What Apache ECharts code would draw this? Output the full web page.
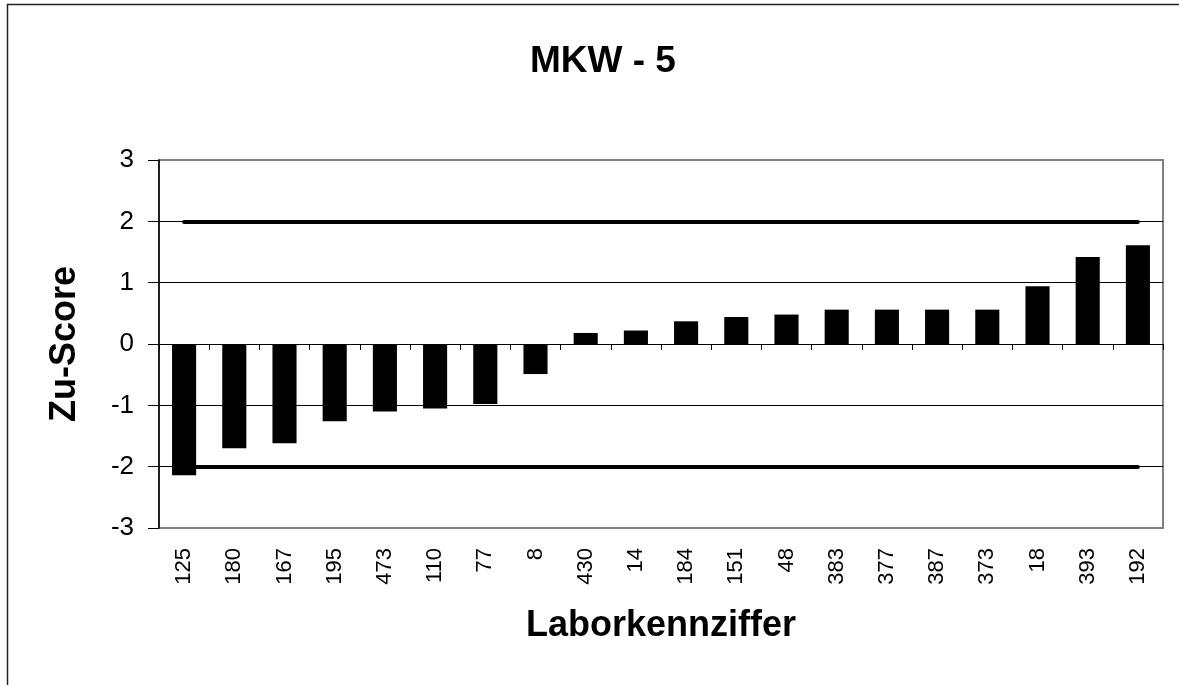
<!DOCTYPE html>
<html>
<head>
<meta charset="utf-8">
<script src="https://cdn.jsdelivr.net/npm/echarts@6/dist/echarts.min.js"></script>
<style>
  html, body { margin: 0; padding: 0; background: #fff; }
  #chart { width: 1179px; height: 685px; }
</style>
</head>
<body>
<div id="chart"></div>
<script>
// Laboratory codes, sorted by z-score
const labCodes = ['125', '180', '167', '195', '473', '110', '77', '8', '430', '14',
                  '184', '151', '48', '383', '377', '387', '373', '18', '393', '192'];
// Zu-Score per laboratory
const zuScores = [-2.14, -1.70, -1.62, -1.26, -1.10, -1.05, -0.98, -0.49, 0.18, 0.22,
                  0.37, 0.44, 0.48, 0.56, 0.56, 0.56, 0.56, 0.94, 1.42, 1.61];
// Acceptance limits
const upperLimit = 2;
const lowerLimit = -2;
// Y axis range
const yMin = -3, yMax = 3, yStep = 1;

const FONT = '"Liberation Sans", Arial, sans-serif';
const first = labCodes[0];
const last = labCodes[labCodes.length - 1];

const chart = echarts.init(document.getElementById('chart'), null, { renderer: 'canvas' });

chart.setOption({
  animation: false,
  backgroundColor: '#ffffff',
  title: {
    text: 'MKW - 5',
    left: 525,
    top: 38,
    textStyle: { fontFamily: FONT, fontSize: 37, fontWeight: 'bold', color: '#000' }
  },
  graphic: [{
    type: 'rect',
    shape: { x: 7.5, y: 4.5, width: 1250, height: 750 },
    style: { fill: 'none', stroke: '#222', lineWidth: 1.5 },
    silent: true,
    z: -1
  }],
  grid: {
    left: 159, right: 16, top: 160, bottom: 157,
    show: true,
    borderColor: '#808080',
    borderWidth: 2,
    backgroundColor: 'transparent'
  },
  xAxis: [
    {
      type: 'category',
      data: labCodes,
      position: 'bottom',
      axisLine: { show: false, onZero: false },
      axisTick: { show: false },
      axisLabel: { rotate: 90, fontSize: 22, margin: 20, color: '#000', fontFamily: FONT, interval: 0 },
      name: 'Laborkennziffer',
      nameLocation: 'middle',
      nameGap: 80,
      nameTextStyle: { fontFamily: FONT, fontSize: 36, fontWeight: 'bold', color: '#000' },
      splitLine: { show: false }
    },
    {
      type: 'category',
      data: labCodes,
      position: 'top',
      axisLine: { show: true, onZero: true, lineStyle: { color: '#000', width: 1 } },
      axisTick: { show: true, inside: true, length: 6, lineStyle: { color: '#000', width: 1 } },
      axisLabel: { show: false },
      splitLine: { show: false }
    }
  ],
  yAxis: {
    type: 'value',
    min: yMin, max: yMax, interval: yStep,
    axisLine: { show: true, lineStyle: { color: '#000', width: 1.5 } },
    axisTick: { show: true, length: 11, lineStyle: { color: '#000', width: 1 } },
    axisLabel: { fontSize: 26, margin: 25, color: '#000', fontFamily: FONT },
    splitLine: { show: true, showMinLine: false, showMaxLine: false, lineStyle: { color: '#000', width: 1 } },
    name: 'Zu-Score',
    nameLocation: 'middle',
    nameRotate: 90,
    nameGap: 76,
    nameTextStyle: { fontFamily: FONT, fontSize: 36, fontWeight: 'bold', color: '#000' }
  },
  series: [
    {
      type: 'bar',
      xAxisIndex: 0,
      data: zuScores,
      barWidth: '48%',
      itemStyle: { color: '#000' },
      z: 3
    },
    {
      type: 'line',
      xAxisIndex: 0,
      data: [],
      z: 1,
      markLine: {
        silent: true,
        symbol: ['none', 'none'],
        label: { show: false },
        z: 1,
        lineStyle: { color: '#000', width: 4, type: 'solid', cap: 'round' },
        data: [
          [{ coord: [first, upperLimit] }, { coord: [last, upperLimit] }],
          [{ coord: [first, lowerLimit] }, { coord: [last, lowerLimit] }]
        ]
      }
    }
  ]
});
</script>
</body>
</html>
